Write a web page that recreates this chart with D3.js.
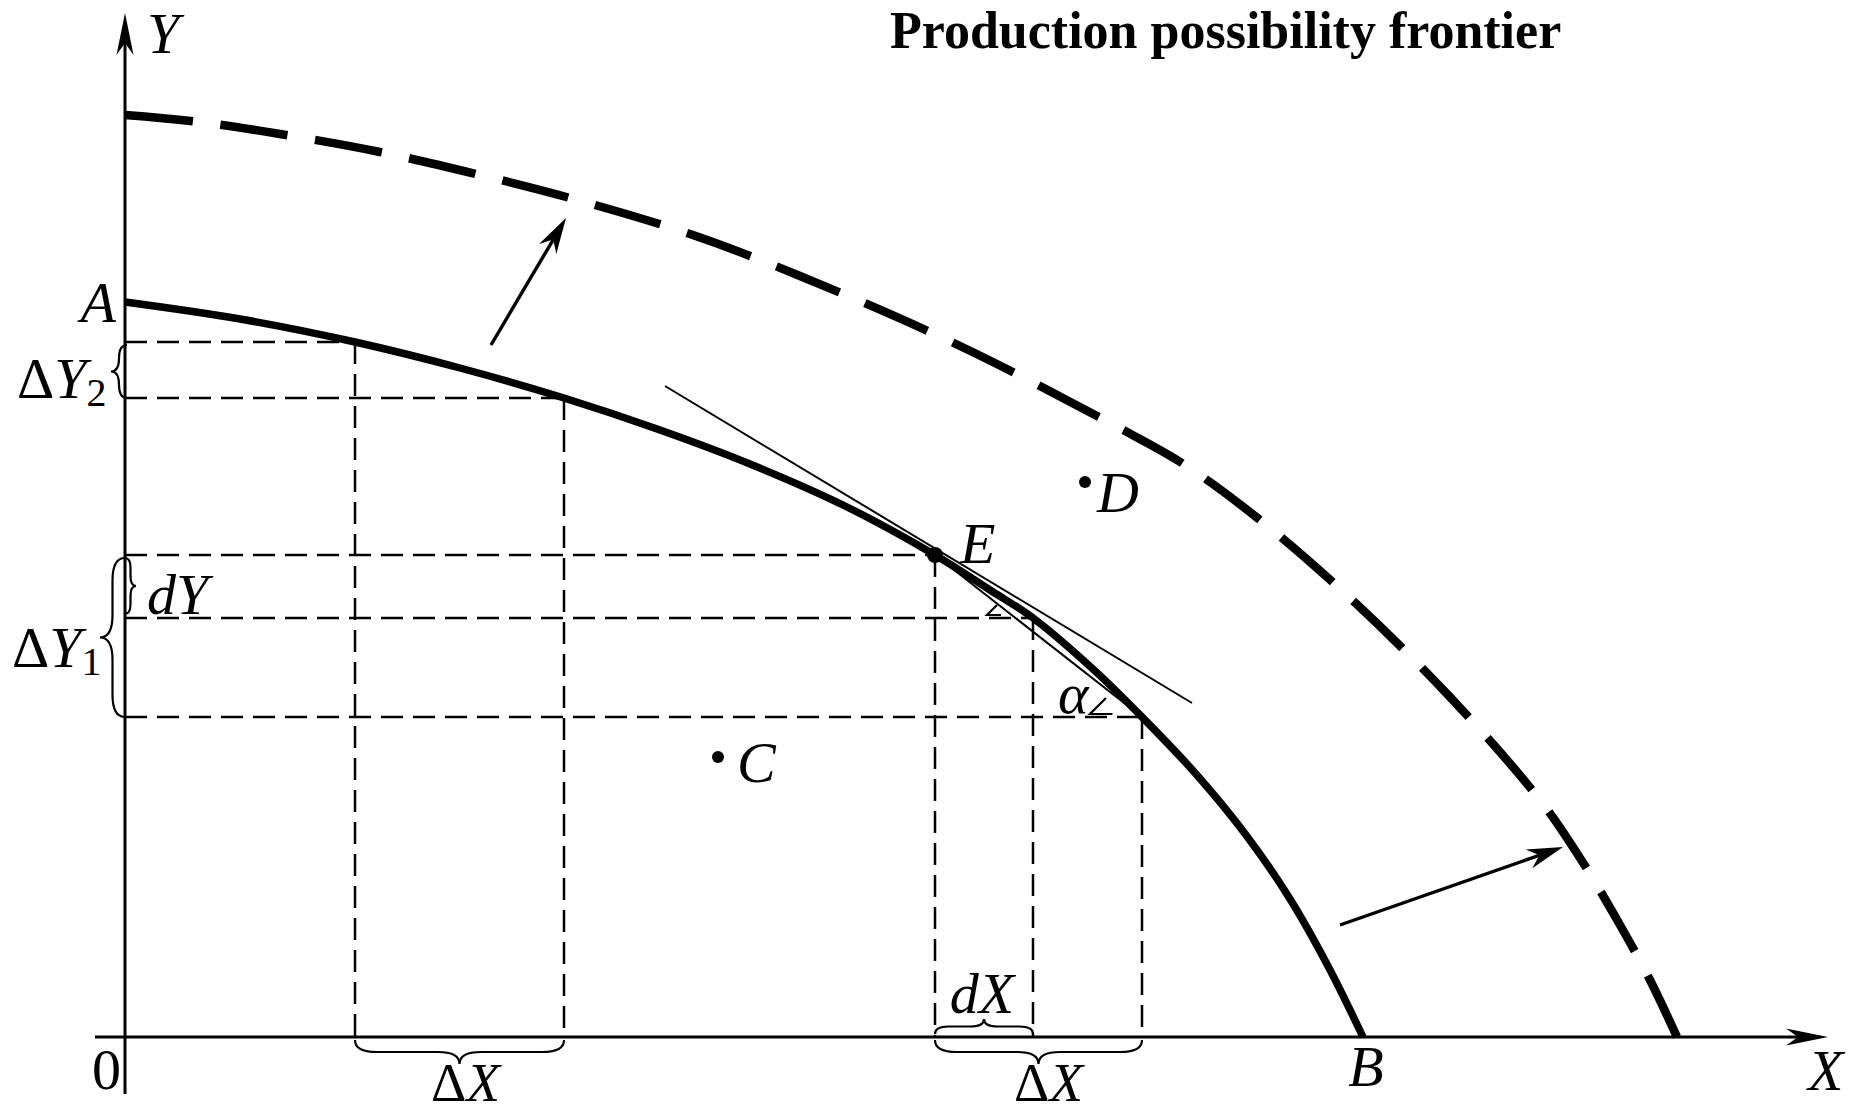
<!DOCTYPE html>
<html>
<head>
<meta charset="utf-8">
<script src="https://cdn.jsdelivr.net/npm/d3@7"></script>
<style>
  html, body { margin: 0; background: #fff; }
  svg { display: block; }
</style>
</head>
<body>
<svg id="chart" width="1855" height="1114"></svg>
<script>
// Production possibility frontier, in arbitrary output units of goods X and Y
const ppfX = [0, 1.15, 2.30, 3.35, 4.39, 5.35, 6.25, 7.20, 8.10, 8.65, 9.08, 9.69, 10.17, 10.71, 11.21, 11.65, 12.04, 12.38];
const ppfY = [7.35, 7.18, 6.95, 6.69, 6.39, 6.07, 5.73, 5.31, 4.82, 4.47, 4.19, 3.67, 3.20, 2.63, 2.02, 1.38, 0.69, 0];

// Frontier after growth (shifted outward)
const grownX = [0, 0.75, 1.55, 2.55, 3.55, 4.45, 5.65, 6.75, 8.35, 10.02, 10.60, 11.35, 12.25, 13.25, 14.15, 14.55, 14.95, 15.25, 15.52];
const grownY = [9.22, 9.15, 9.03, 8.85, 8.62, 8.39, 8.03, 7.61, 6.91, 6.05, 5.72, 5.17, 4.39, 3.40, 2.37, 1.79, 1.12, 0.57, 0];

// Points on the frontier used for the ΔX / ΔY construction (index 2 is E)
const stepX = [2.30, 4.39, 8.10, 9.08, 10.17];
const stepY = [6.95, 6.39, 4.82, 4.19, 3.20];

// Marked points
const pointNames = ["C", "D", "E"];
const pointX = [5.93, 9.60, 8.10];
const pointY = [2.80, 5.55, 4.82];

// Tangent at E
const tangentX = [5.40, 10.67];
const tangentY = [6.51, 3.34];

// Outward-shift arrows
const shiftFromX = [3.66, 12.15];
const shiftFromY = [6.92, 1.12];
const shiftToX = [4.41, 14.38];
const shiftToY = [8.19, 1.90];

// Axis extents
const axisXRange = [-0.30, 17.03];
const axisYRange = [-0.57, 10.24];

const svg = d3.select("#chart");
const x = d3.scaleLinear().domain([0, 17]).range([125, 1825]);
const y = d3.scaleLinear().domain([0, 10.37]).range([1037, 0]);

const FONT = "'Liberation Serif', 'Times New Roman', serif";
const ink = "#000";

const line = d3.line().x(d => x(d[0])).y(d => y(d[1])).curve(d3.curveCatmullRom.alpha(0.5));

// arrowhead polygon with a notch, tip at (tx,ty), pointing along (ux,uy)
function headPath(tx, ty, ux, uy, len, half, notch) {
  const nx = -uy, ny = ux;
  const bx = tx - ux * len, by = ty - uy * len;
  const mx = tx - ux * (len - notch), my = ty - uy * (len - notch);
  return `M${tx},${ty} L${bx + nx * half},${by + ny * half} L${mx},${my} L${bx - nx * half},${by - ny * half} Z`;
}

function arrow(g, x1, y1, x2, y2, width, len, half, notch) {
  const L = Math.hypot(x2 - x1, y2 - y1);
  const ux = (x2 - x1) / L, uy = (y2 - y1) / L;
  g.append("line")
    .attr("x1", x1).attr("y1", y1)
    .attr("x2", x2 - ux * (len - notch)).attr("y2", y2 - uy * (len - notch))
    .attr("stroke", ink).attr("stroke-width", width);
  g.append("path").attr("d", headPath(x2, y2, ux, uy, len, half, notch)).attr("fill", ink);
}

// curly brace from p1 to p2, bulging by w to the left of the p1->p2 direction
function bracePath(p1, p2, w) {
  const L = Math.hypot(p2[0] - p1[0], p2[1] - p1[1]);
  const ux = (p2[0] - p1[0]) / L, uy = (p2[1] - p1[1]) / L;
  const nx = -uy, ny = ux;
  const r = Math.min(Math.abs(w) * 0.9, L / 4);
  const h = w / 2;
  const P = (u, v) => `${p1[0] + ux * u + nx * v},${p1[1] + uy * u + ny * v}`;
  return `M${P(0, 0)} Q${P(0, h)} ${P(r, h)} L${P(L / 2 - r, h)} Q${P(L / 2, h)} ${P(L / 2, w)} ` +
         `Q${P(L / 2, h)} ${P(L / 2 + r, h)} L${P(L - r, h)} Q${P(L, h)} ${P(L, 0)}`;
}

// ---- guide rectangles (thin dashed)
const guides = svg.append("g")
  .attr("fill", "none").attr("stroke", ink).attr("stroke-width", 2.5).attr("stroke-dasharray", "22 10");
stepX.forEach((sx, i) => {
  guides.append("line").attr("x1", x(0)).attr("y1", y(stepY[i])).attr("x2", x(sx)).attr("y2", y(stepY[i]));
  guides.append("line").attr("x1", x(sx)).attr("y1", y(stepY[i])).attr("x2", x(sx)).attr("y2", y(0));
});

// ---- axes
const axes = svg.append("g");
arrow(axes, x(0), y(axisYRange[0]), x(0), y(axisYRange[1]), 3, 42, 8.5, 12);
arrow(axes, x(axisXRange[0]), y(0), x(axisXRange[1]), y(0), 3, 42, 8.5, 12);

// ---- frontiers
const grown = svg.append("path")
  .attr("d", line(grownX.map((v, i) => [v, grownY[i]])))
  .attr("fill", "none").attr("stroke", ink).attr("stroke-width", 8.5);
// stretch the gaps slightly so the dashed curve starts and ends on a dash
{
  const total = grown.node().getTotalLength();
  const dash = 68;
  const n = Math.round((total - dash) / 95);
  const gap = (total - (n + 1) * dash) / n;
  grown.attr("stroke-dasharray", `${dash} ${gap}`);
}

svg.append("path")
  .attr("d", line(ppfX.map((v, i) => [v, ppfY[i]])))
  .attr("fill", "none").attr("stroke", ink).attr("stroke-width", 7.5)
  .attr("stroke-linecap", "butt");

// ---- tangent at E and chords from E
const thin = svg.append("g").attr("stroke", ink).attr("stroke-width", 2).attr("fill", "none");
thin.append("line")
  .attr("x1", x(tangentX[0])).attr("y1", y(tangentY[0]))
  .attr("x2", x(tangentX[1])).attr("y2", y(tangentY[1]));
[3, 4].forEach(k => {
  thin.append("line")
    .attr("x1", x(stepX[2])).attr("y1", y(stepY[2]))
    .attr("x2", x(stepX[k])).attr("y2", y(stepY[k]));
});
// angle marks at the chord ends
[[3, 46, 10], [4, 52, 16]].forEach(([k, off, sz]) => {
  const vx = x(stepX[k]) - off, vy = y(stepY[k]) - 3;
  thin.append("path")
    .attr("d", `M${vx + sz},${vy - sz} L${vx},${vy} L${vx + sz * 1.4},${vy}`)
    .attr("stroke-width", 2.2);
});

// ---- outward shift arrows
const shifts = svg.append("g");
shiftFromX.forEach((fx, i) => {
  arrow(shifts, x(fx), y(shiftFromY[i]), x(shiftToX[i]), y(shiftToY[i]), 3.4, 36, 10, 11);
});

// ---- braces
const braces = svg.append("g").attr("fill", "none").attr("stroke", ink).attr("stroke-width", 2.2);
// ΔY2 and ΔY1 on the Y axis, dY to its right
braces.append("path").attr("d", bracePath([x(0) + 2, y(stepY[0]) + 3], [x(0) + 2, y(stepY[1])], 16));
braces.append("path").attr("d", bracePath([x(0), y(stepY[2]) + 3], [x(0), y(stepY[4])], 25));
braces.append("path").attr("d", bracePath([x(0), y(stepY[2]) + 3], [x(0), y(stepY[3]) - 4], -11));
// ΔX pairs below the X axis, dX above it
braces.append("path").attr("d", bracePath([x(stepX[0]), y(0) + 3], [x(stepX[1]), y(0) + 3], 24));
braces.append("path").attr("d", bracePath([x(stepX[2]), y(0) + 3], [x(stepX[4]), y(0) + 3], 24));
braces.append("path").attr("d", bracePath([x(stepX[2]), y(0) - 3], [x(stepX[3]), y(0) - 3], -15));

// ---- marked points
svg.append("g").selectAll("circle")
  .data(pointNames)
  .join("circle")
  .attr("cx", (d, i) => x(pointX[i]))
  .attr("cy", (d, i) => y(pointY[i]))
  .attr("r", (d) => d === "E" ? 8 : 6)
  .attr("fill", ink);

// ---- labels
const labels = svg.append("g")
  .attr("font-family", FONT).attr("font-style", "italic").attr("font-size", 58).attr("fill", ink);

function label(txt, px, py, anchor) {
  return labels.append("text").attr("x", px).attr("y", py).attr("text-anchor", anchor || "start").text(txt);
}

label("Y", x(0) + 22, 53);
label("X", x(axisXRange[1]) - 20, y(0) + 53);
label("A", x(0) - 9, y(ppfY[0]) + 20, "end");
label("B", x(ppfX[ppfX.length - 1]) + 3, y(0) + 49, "middle");
label("C", x(pointX[0]) + 19, y(pointY[0]) + 25);
label("D", x(pointX[1]) + 12, y(pointY[1]) + 30);
label("E", x(pointX[2]) + 25, y(pointY[2]) + 8);
label("α", x(stepX[4]) - 84, y(stepY[4]) - 4);
label("dY", x(0) + 22, y(stepY[3]) - 4);
label("dX", (x(stepX[2]) + x(stepX[3])) / 2 - 2, y(0) - 24, "middle");

function deltaLabel(base, sub, px, py, anchor, size) {
  const t = labels.append("text").attr("x", px).attr("y", py).attr("text-anchor", anchor || "start");
  if (size) t.attr("font-size", size);
  t.append("tspan").attr("font-style", "normal").text("Δ");
  t.append("tspan").text(base);
  if (sub) t.append("tspan").attr("font-style", "normal").attr("font-size", 40).attr("dy", 8).text(sub);
  return t;
}
deltaLabel("Y", "2", 17, y(stepY[1]));
deltaLabel("Y", "1", 12, y(stepY[4]) - 50);
deltaLabel("X", null, (x(stepX[0]) + x(stepX[1])) / 2 + 6, y(0) + 64, "middle", 55);
deltaLabel("X", null, (x(stepX[2]) + x(stepX[4])) / 2 + 10, y(0) + 64, "middle", 55);

labels.append("text").attr("x", x(0) - 33).attr("y", y(0) + 52)
  .attr("font-style", "normal").text("0");

// ---- title
svg.append("text")
  .attr("x", 890).attr("y", 48)
  .attr("font-family", FONT).attr("font-weight", "bold").attr("font-size", 52)
  .attr("fill", ink)
  .text("Production possibility frontier");
</script>
</body>
</html>
